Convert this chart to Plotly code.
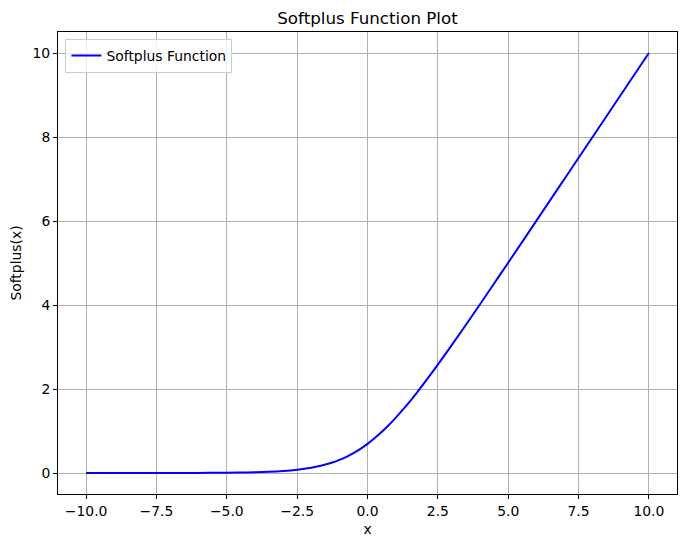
import plotly.graph_objects as go

# Values
x_vals = [-10, -9, -8, -7, -6, -5, -4.5, -4, -3.5, -3, -2.5, -2, -1.75, -1.5, -1.25, -1, -0.75, -0.5, -0.25,
          0, 0.25, 0.5, 0.75, 1, 1.25, 1.5, 1.75, 2, 2.5, 3, 3.5, 4, 4.5, 5, 6, 7, 8, 9, 10]
y_vals = [0.0000, 0.0001, 0.0003, 0.0009, 0.0025, 0.0067, 0.011, 0.018, 0.030, 0.049, 0.079, 0.127, 0.160,
          0.201, 0.251, 0.313, 0.386, 0.474, 0.576, 0.693, 0.826, 0.974, 1.136, 1.313, 1.501, 1.701, 1.910,
          2.127, 2.579, 3.049, 3.530, 4.018, 4.511, 5.007, 6.002, 7.001, 8.000, 9.000, 10.000]

x_ticks = [-10.0, -7.5, -5.0, -2.5, 0.0, 2.5, 5.0, 7.5, 10.0]
y_ticks = [0, 2, 4, 6, 8, 10]

FONT = "DejaVu Sans"

fig = go.Figure()
fig.add_trace(go.Scatter(x=x_vals, y=y_vals, mode="lines", name="Softplus Function",
                         line=dict(color="blue", width=2, shape="spline")))

axis_common = dict(showline=True, linecolor="black", linewidth=1, mirror=True,
                   ticks="outside", ticklen=4, tickwidth=1, tickcolor="black",
                   showgrid=True, gridcolor="#b0b0b0", gridwidth=0.8, zeroline=False,
                   automargin=False,
                   tickfont=dict(family=FONT, size=13.9, color="black"))

# page body has an 8px margin, so the figure is 8px smaller and margins reduced by 8
fig.update_layout(
    width=678, height=539,
    margin=dict(l=50, r=9, t=24, b=53, autoexpand=False),
    paper_bgcolor="white", plot_bgcolor="white",
    title=dict(text="Softplus Function Plot", x=0.5, xref="paper", xanchor="center",
               y=0.982, yref="container", yanchor="middle", automargin=False,
               font=dict(family=FONT, size=16.7, color="black")),
    xaxis=dict(range=[-11, 11], tickvals=x_ticks, tickformat=".1f",
               title=dict(text="x", font=dict(family=FONT, size=13.9, color="black"), standoff=6),
               **axis_common),
    yaxis=dict(range=[-0.5, 10.5], tickvals=y_ticks,
               title=dict(text="Softplus(x)", font=dict(family=FONT, size=13.9, color="black"), standoff=8),
               **axis_common),
    legend=dict(x=0.012, y=0.985, xanchor="left", yanchor="top",
                bgcolor="rgba(255,255,255,0.8)", bordercolor="#cccccc", borderwidth=1,
                font=dict(family=FONT, size=13.9, color="black")),
    showlegend=True,
)

fig.write_html("out.html")
